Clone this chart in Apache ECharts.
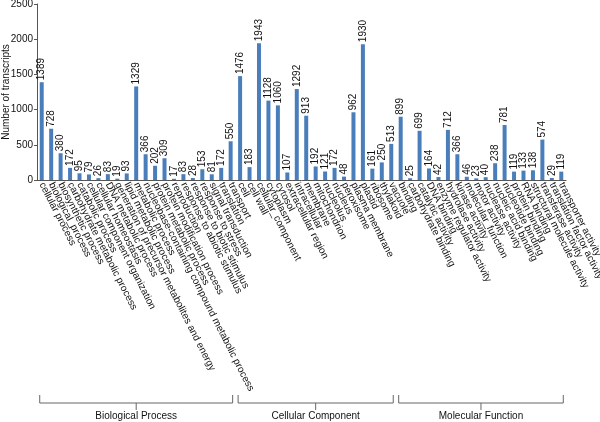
<!DOCTYPE html>
<html><head><meta charset="utf-8">
<script src="https://cdn.jsdelivr.net/npm/echarts@6/dist/echarts.min.js"></script>
<style>html,body{margin:0;padding:0;background:#fff}#c{width:600px;height:422px}</style>
</head><body><div id="c"></div>
<script>
const bpCategories = ["cellular process","biological_process","biosynthetic process","carbohydrate metabolic process","catabolic process","cellular component organization","cellular homeostasis","DNA metabolic process","generation of precursor metabolites and energy","lipid metabolic process","metabolic process","nucleobase-containing compound metabolic process","protein metabolic process","protein modification process","reproduction","response to abiotic stimulus","response to biotic stimulus","response to stress","signal transduction","translation","transport"];
const bpValues = [1389,728,380,172,95,79,26,83,19,93,1329,366,202,309,17,83,28,153,81,172,550];
const ccCategories = ["cell","cell wall","cellular_component","cytoplasm","cytosol","extracellular region","intracellular","membrane","mitochondrion","nucleolus","nucleus","peroxisome","plasma membrane","plastid","ribosome","thylakoid","vacuole"];
const ccValues = [1476,183,1943,1128,1060,107,1292,913,192,121,172,48,962,1930,161,250,513];
const mfCategories = ["binding","carbohydrate binding","catalytic activity","DNA binding","enzyme regulator activity","hydrolase activity","kinase activity","molecular_function","motor activity","nuclease activity","nucleic acid binding","nucleotide binding","protein binding","RNA binding","structural molecule activity","transferase activity","translation factor activity","transporter activity"];
const mfValues = [899,25,699,164,42,712,366,46,23,40,238,781,119,133,138,574,29,119];
const groupNames = ["Biological Process","Cellular Component","Molecular Function"];
const yTicks = [0,500,1000,1500,2000,2500];

const categories = bpCategories.concat(ccCategories, mfCategories);
const values = bpValues.concat(ccValues, mfValues);
const FONT = "Liberation Sans, Arial, sans-serif";

const chart = echarts.init(document.getElementById('c'), null, {renderer:'canvas'});
chart.setOption({
  animation:false,
  grid:{left:37,right:34,top:4,bottom:242,containLabel:false,outerBoundsMode:'none'},
  xAxis:{type:'category',data:categories,boundaryGap:true,
    axisLine:{lineStyle:{color:'#555',width:1}},
    axisTick:{show:false},
    axisLabel:{interval:0,rotate:-63,fontSize:10,color:'#111',fontFamily:FONT,margin:3,hideOverlap:false}
  },
  yAxis:{type:'value',min:0,max:2500,interval:500,
    name:'Number of transcripts',nameLocation:'middle',nameGap:31,nameMoveOverlap:false,
    nameTextStyle:{fontSize:10,color:'#111',fontFamily:FONT,verticalAlign:'middle'},
    axisLine:{show:true,lineStyle:{color:'#555'}},
    axisTick:{show:true,length:3,lineStyle:{color:'#555'}},
    splitLine:{show:false},
    axisLabel:{fontSize:10,color:'#111',fontFamily:FONT,margin:4,
      formatter:v=>yTicks.includes(v)?String(v):''}
  },
  series:[{type:'bar',data:values,barWidth:4,
    itemStyle:{color:'#4A7EBB'},
    label:{show:true,position:'top',rotate:90,align:'left',verticalAlign:'middle',distance:2,
      fontSize:10,color:'#111',fontFamily:FONT}
  }]
});

// group brackets tied to category positions
const groups=[bpCategories,ccCategories,mfCategories];
const els=[];
const yTop=395,yLine=403,yTickEnd=410,yText=416;
groups.forEach((g,i)=>{
  const x0=chart.convertToPixel({xAxisIndex:0},g[0])-2;
  const x1=chart.convertToPixel({xAxisIndex:0},g[g.length-1])+2;
  const xm=(x0+x1)/2;
  const st={stroke:'#666',lineWidth:1};
  els.push({type:'polyline',shape:{points:[[x0,yTop],[x0,yLine],[x1,yLine],[x1,yTop]]},style:Object.assign({fill:null},st)});
  els.push({type:'line',shape:{x1:xm,y1:yLine,x2:xm,y2:yTickEnd},style:st});
  els.push({type:'text',x:xm,y:yText,style:{text:groupNames[i],fontSize:10,fontFamily:FONT,fill:'#111',align:'center',verticalAlign:'middle'}});
});
chart.setOption({graphic:{elements:els}});
</script></body></html>
